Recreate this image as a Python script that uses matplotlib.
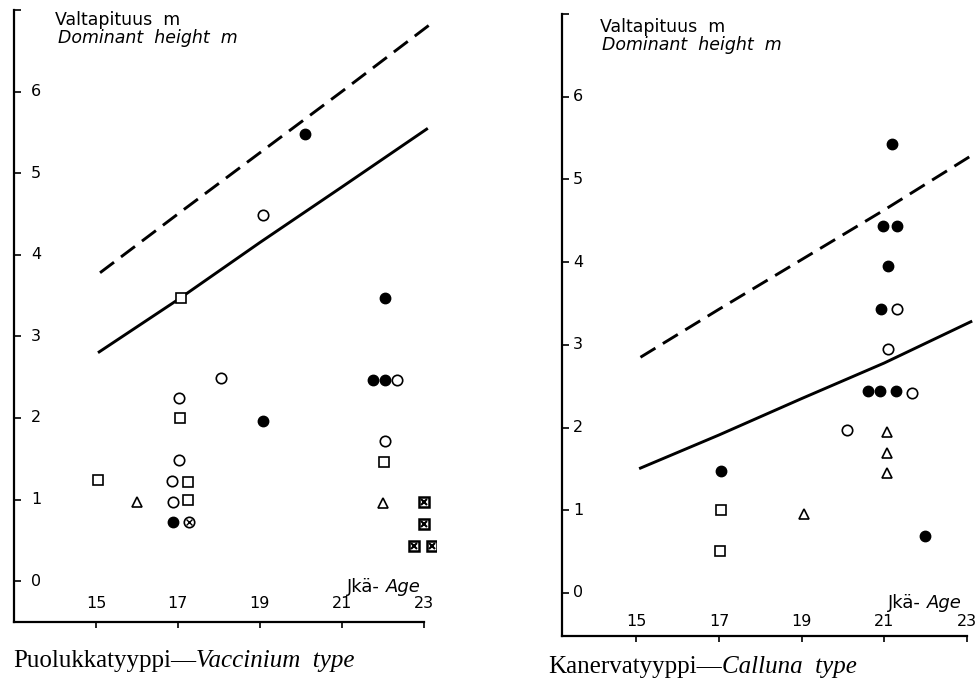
import matplotlib
matplotlib.use("Agg")
import matplotlib.pyplot as plt
import matplotlib.transforms as mtrans

# Puolukkatyyppi -- Vaccinium type
vac_solid_age = [15.05, 17, 19, 21, 23.1]
vac_solid = [2.8, 3.45, 4.15, 4.83, 5.55]
vac_dash_age = [15.1, 17, 19, 21, 23.2]
vac_dashed = [3.78, 4.5, 5.25, 6.0, 6.84]

vac_filled_age = [20.1, 22.06, 21.77, 22.06, 19.07, 16.87]
vac_filled_h = [5.48, 3.47, 2.46, 2.46, 1.96, 0.72]
vac_open_age = [19.07, 18.06, 22.35, 17.03, 22.06, 17.03, 16.85, 16.87]
vac_open_h = [4.49, 2.49, 2.46, 2.24, 1.72, 1.48, 1.23, 0.97]
vac_square_age = [17.08, 17.06, 22.04, 15.05, 17.25, 17.25]
vac_square_h = [3.47, 2.0, 1.46, 1.24, 1.22, 0.99]
vac_tri_age = [16.0, 22.0]
vac_tri_h = [0.97, 0.96]
vac_xcircle_age = [17.27]
vac_xcircle_h = [0.72]
vac_xsquare_age = [23.0, 23.0, 22.77, 23.2]
vac_xsquare_h = [0.97, 0.70, 0.43, 0.43]

# Kanervatyyppi -- Calluna type
cal_solid_age = [15.1, 17, 19, 21, 23.1]
cal_solid = [1.51, 1.91, 2.35, 2.78, 3.28]
cal_dash_age = [15.1, 17, 19, 21, 23.15]
cal_dashed = [2.85, 3.43, 4.03, 4.63, 5.3]

cal_filled_age = [21.18, 20.97, 21.3, 21.1, 20.92, 20.6, 20.9, 21.28, 17.05, 22.0]
cal_filled_h = [5.43, 4.44, 4.44, 3.95, 3.43, 2.44, 2.44, 2.44, 1.48, 0.69]
cal_open_age = [21.3, 21.1, 21.67, 20.1]
cal_open_h = [3.43, 2.95, 2.42, 1.97]
cal_square_age = [17.05, 17.03]
cal_square_h = [1.0, 0.51]
cal_tri_age = [21.06, 21.06, 21.06, 19.06]
cal_tri_h = [1.95, 1.69, 1.45, 0.95]

x_ticks = [15, 17, 19, 21, 23]
y_ticks = [0, 1, 2, 3, 4, 5, 6]

fig = plt.figure(figsize=(9.75, 6.82), dpi=100)
W, H = 975, 682


def px_axes(x0, y_top, x1, y_bottom):
    return fig.add_axes([x0 / W, 1 - y_bottom / H, (x1 - x0) / W, (y_bottom - y_top) / H])


def setup(ax, xlim, ylim, ylab_off, xlab_off):
    ax.set_xlim(*xlim)
    ax.set_ylim(*ylim)
    ax.patch.set_alpha(0)
    for s in ["top", "right"]:
        ax.spines[s].set_visible(False)
    for s in ["left", "bottom"]:
        ax.spines[s].set_linewidth(1.6)
    ax.spines["bottom"].set_bounds(xlim[0], 23)
    ax.set_xticks(x_ticks)
    ax.set_yticks(y_ticks + [7])
    ax.tick_params(axis="y", direction="in", length=5, width=1.2, labelleft=False)
    ax.tick_params(axis="x", direction="out", length=4, width=1.2, labelbottom=False)
    ytr = mtrans.blended_transform_factory(ax.transAxes, ax.transData)
    for v in y_ticks:
        ax.annotate(str(v), xy=(0, v), xycoords=ytr, xytext=(ylab_off, 0),
                    textcoords="offset pixels", ha="left", va="center", fontsize=11.5)
    xtr = mtrans.blended_transform_factory(ax.transData, ax.transAxes)
    for v in x_ticks:
        ax.annotate(str(v), xy=(v, 0), xycoords=xtr, xytext=(0, xlab_off),
                    textcoords="offset pixels", ha="center", va="center", fontsize=11.5)


def points(ax, filled, opened, squares, tris):
    ax.plot(filled[0], filled[1], "o", ms=7.5, mfc="black", mec="black", ls="none")
    ax.plot(opened[0], opened[1], "o", ms=7.5, mfc="white", mec="black", mew=1.2, ls="none")
    ax.plot(squares[0], squares[1], "s", ms=6.5, mfc="white", mec="black", mew=1.2, ls="none")
    ax.plot(tris[0], tris[1], "^", ms=6.5, mfc="white", mec="black", mew=1.2, ls="none")


# left panel
ax1 = px_axes(14, 10, 436, 622)
setup(ax1, (13, 23.3), (-0.5, 7), 17, 18)
ax1.plot(vac_solid_age, vac_solid, color="black", lw=2.1, solid_capstyle="butt")
ax1.plot(vac_dash_age, vac_dashed, color="black", lw=2.1, dashes=(6, 3))
points(ax1, (vac_filled_age, vac_filled_h), (vac_open_age, vac_open_h),
       (vac_square_age, vac_square_h), (vac_tri_age, vac_tri_h))
ax1.plot(vac_xcircle_age, vac_xcircle_h, "o", ms=7.5, mfc="white", mec="black", mew=1.2, ls="none")
ax1.plot(vac_xcircle_age, vac_xcircle_h, "x", ms=4.5, mec="black", mew=1.0, ls="none")
ax1.plot(vac_xsquare_age, vac_xsquare_h, "s", ms=6.5, mfc="white", mec="black", mew=1.8, ls="none")
ax1.plot(vac_xsquare_age, vac_xsquare_h, "x", ms=4.5, mec="black", mew=1.5, ls="none")

# right panel
ax2 = px_axes(562, 14, 975, 636)
setup(ax2, (13.2, 23.2), (-0.52, 7), 11, 15)
ax2.plot(cal_solid_age, cal_solid, color="black", lw=2.1)
ax2.plot(cal_dash_age, cal_dashed, color="black", lw=2.1, dashes=(6, 3))
points(ax2, (cal_filled_age, cal_filled_h), (cal_open_age, cal_open_h),
       (cal_square_age, cal_square_h), (cal_tri_age, cal_tri_h))

# texts
def fig_text(x, y, s, **kw):
    return fig.text(x / W, 1 - y / H, s, **kw)


fig_text(55, 20, "Valtapituus  m", fontsize=12.5, va="center")
fig_text(58, 38, "Dominant  height  m", fontsize=12.5, style="italic", va="center")
fig_text(600, 27, "Valtapituus  m", fontsize=12.5, va="center")
fig_text(602, 45, "Dominant  height  m", fontsize=12.5, style="italic", va="center")

serif = "Liberation Serif"
fig.canvas.draw()
r = fig.canvas.get_renderer()


def two_part(x, y, a, b, size, fam=None, va="baseline"):
    t = fig_text(x, y, a, fontsize=size, family=fam, va=va)
    bb = t.get_window_extent(renderer=r)
    fig.text(bb.x1 / W, 1 - y / H, b, fontsize=size, family=fam, style="italic", va=va)


two_part(347, 587, "Jkä- ", "Age", 13, va="center")
two_part(888, 603, "Jkä- ", "Age", 13, va="center")
two_part(13, 667, "Puolukkatyyppi\u2014", "Vaccinium  type", 18, fam=serif)
two_part(548, 673, "Kanervatyyppi\u2014", "Calluna  type", 18, fam=serif)

fig.savefig("out.png", dpi=100)
